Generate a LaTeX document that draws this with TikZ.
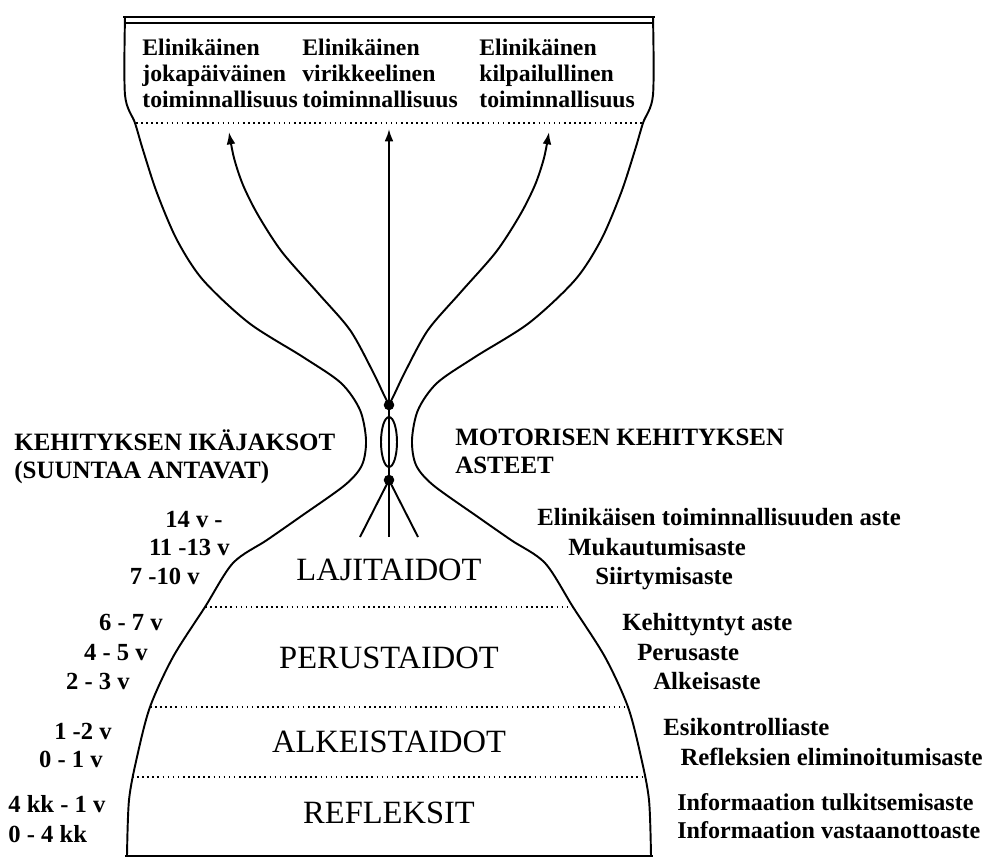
\documentclass[tikz,border=0pt]{standalone}
\usepackage{fontspec}
\setmainfont{Liberation Serif}
\usetikzlibrary{arrows.meta}

\begin{document}
\begin{tikzpicture}[x=0.02cm, y=-0.02cm,
  outline/.style={line width=1.1pt, line join=round},
  sep/.style={dotted, line width=0.9pt},
  flow/.style={line width=1.1pt, -{Latex[length=7pt,width=5pt]}},
  dot/.style={circle, fill, inner sep=0pt, minimum size=6pt},
  act/.style={font=\bfseries\fontsize{13.5}{14.6}\selectfont, align=left, anchor=north west, inner sep=0pt},
  head/.style={font=\bfseries\fontsize{14.2}{15.9}\selectfont, align=left, anchor=north west, inner sep=0pt},
  age/.style={font=\bfseries\fontsize{14}{16}\selectfont, inner sep=0pt},
  stage/.style={font=\bfseries\fontsize{14.1}{16}\selectfont, anchor=base west, inner sep=0pt},
  skill/.style={font=\fontsize{18.5}{22}\selectfont, anchor=base, inner sep=0pt}]
  \useasboundingbox (0,0) rectangle (988,860);

  % frame of the top
  \draw[line width=1.6pt] (123,17) -- (655,17);
  \draw[line width=1.1pt] (125,23) -- (653,23);

  % hourglass
  \draw[outline] plot[smooth] coordinates {(125,17) (125,95) (135,123) (143,150) (157,193) (177,240) (203,280)
    (249,323) (303,357) (341,383) (360,410) (366,440) (362,465) (345,485) (300,517) (267,540) (233,563)
    (205,607) (173,657) (150,707) (137,757) (129,800) (127,856)};
  \draw[outline] plot[smooth] coordinates {(653,17) (653,95) (643,123) (635,150) (621,193) (601,240) (575,280)
    (529,323) (475,357) (437,383) (418,410) (412,440) (416,465) (433,485) (478,517) (511,540) (545,563)
    (573,607) (605,657) (628,707) (641,757) (649,800) (651,856)};
  \draw[outline] (125,856) -- (653,856);

  \draw[sep] (136,123) -- (643,123);
  \draw[sep] (205,607) -- (573,607);
  \draw[sep] (150,707) -- (628,707);
  \draw[sep] (132,777) -- (646,777);

  % the neck
  \coordinate (ctop) at (389,129);
  \coordinate (cbot) at (389,537);
  \coordinate (fl) at (360,537);
  \coordinate (fr) at (418,537);
  \node[dot] (dtop) at (389,405) {};
  \node[dot] (dbot) at (389,480) {};
  \draw[outline] (389,442) ellipse [x radius=0.16cm, y radius=0.5cm];
  \draw[outline] (dbot.center) -- (fl);
  \draw[outline] (dbot.center) -- (fr);

  \draw[flow] (cbot) -- (ctop);
  \draw[flow] plot[smooth] coordinates {(dtop.center) (384,395) (372,370) (350,330) (318,293) (282,252)
    (258,215) (243,185) (234,158) (229,132)};
  \draw[flow] plot[smooth] coordinates {(dtop.center) (394,395) (406,370) (428,330) (460,293) (496,252)
    (520,215) (535,185) (544,158) (549,132)};

  % texts
  \node[act] (act1) at (142,39) {Elinikäinen\\jokapäiväinen\\toiminnallisuus};
  \node[act] (act2) at (302,39) {Elinikäinen\\virikkeelinen\\toiminnallisuus};
  \node[act] (act3) at (479,39) {Elinikäinen\\kilpailullinen\\toiminnallisuus};

  \node[head] (hage) at (14,429) {KEHITYKSEN IKÄJAKSOT\\(SUUNTAA ANTAVAT)};
  \node[head] (hmot) at (455,429) {MOTORISEN KEHITYKSEN\\ASTEET};

  \node[skill] (laji) at (389,580) {LAJITAIDOT};
  \node[skill] (perus) at (389,668) {PERUSTAIDOT};
  \node[skill] (alkeis) at (389,752) {ALKEISTAIDOT};
  \node[skill] (refl) at (389,823) {REFLEKSIT};

  \node[age, anchor=base east] (a1) at (223,527) {14 v -};
  \node[age, anchor=base east] (a2) at (230,555) {11 -13 v};
  \node[age, anchor=base east] (a3) at (200,584) {7 -10 v};
  \node[age, anchor=base east] (a4) at (163,630) {6 - 7 v};
  \node[age, anchor=base east] (a5) at (148,660) {4 - 5 v};
  \node[age, anchor=base east] (a6) at (130,689) {2 - 3 v};
  \node[age, anchor=base east] (a7) at (112,739) {1 -2 v};
  \node[age, anchor=base east] (a8) at (103,767) {0 - 1 v};
  \node[age, anchor=base west] (a9) at (8,812) {4 kk - 1 v};
  \node[age, anchor=base west] (a10) at (8,842) {0 - 4 kk};

  \node[stage] (s1) at (537,525) {Elinikäisen toiminnallisuuden aste};
  \node[stage] (s2) at (568,555) {Mukautumisaste};
  \node[stage] (s3) at (595,584) {Siirtymisaste};
  \node[stage] (s4) at (622,630) {Kehittyntyt aste};
  \node[stage] (s5) at (637,660) {Perusaste};
  \node[stage] (s6) at (653,689) {Alkeisaste};
  \node[stage] (s7) at (663,735) {Esikontrolliaste};
  \node[stage, anchor=base east] (s8) at (983,765) {Refleksien eliminoitumisaste};
  \node[stage, font=\bfseries\fontsize{13.7}{16}\selectfont] (s9) at (677,810) {Informaation tulkitsemisaste};
  \node[stage, font=\bfseries\fontsize{13.7}{16}\selectfont] (s10) at (677,838) {Informaation vastaanottoaste};
\end{tikzpicture}
\end{document}
